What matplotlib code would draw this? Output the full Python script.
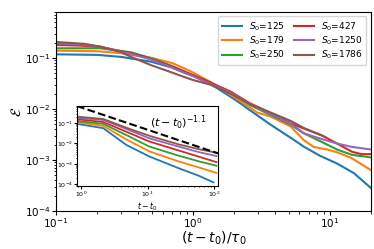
import numpy as np
import matplotlib
matplotlib.use('Agg')
import matplotlib.pyplot as plt

# initial sizes and colours of the six runs
S0 = [125, 179, 250, 427, 1250, 1786]
colors = ['tab:blue', 'tab:orange', 'tab:green', 'tab:red', 'tab:purple', 'tab:brown']

# main panel: eps vs (t - t0)/tau0
x_main = [
    [0.1, 0.2, 0.3, 0.35, 0.49, 0.7, 0.85, 1.0, 1.34, 1.88, 2.24, 2.6, 3.7, 5.2, 6.5, 8.5, 11.3, 15, 20],
    [0.1, 0.2, 0.29, 0.5, 0.7, 0.85, 1.0, 1.34, 1.88, 2.24, 2.95, 3.7, 5.2, 6.4, 7.6, 9.6, 11.4, 14.3, 20],
    [0.1, 0.15, 0.21, 0.35, 0.49, 0.7, 0.85, 1.0, 1.34, 1.88, 2.6, 3.7, 5.2, 6.5, 8.6, 11.3, 14.5, 20],
    [0.1, 0.15, 0.21, 0.35, 0.49, 0.7, 0.85, 1.0, 1.34, 1.88, 2.6, 3.7, 5.2, 6.5, 8.6, 11.3, 14.5, 17, 20],
    [0.1, 0.15, 0.21, 0.35, 0.49, 0.7, 0.85, 1.0, 1.34, 1.88, 2.6, 3.7, 5.2, 6.5, 8.6, 11.3, 14.5, 20],
    [0.1, 0.16, 0.21, 0.3, 0.35, 0.49, 0.7, 0.85, 1.0, 1.34, 1.88, 2.6, 3.7, 5.2, 6.5, 9.3],
]
eps_main = [
    [0.118, 0.115, 0.105, 0.098, 0.085, 0.065, 0.053, 0.045, 0.031, 0.0174, 0.0127, 0.0095, 0.0049, 0.0027, 0.0018, 0.0012, 0.00085, 0.00055, 0.00028],
    [0.139, 0.136, 0.125, 0.1, 0.08, 0.064, 0.052, 0.034, 0.019, 0.014, 0.0085, 0.0071, 0.0045, 0.0025, 0.0018, 0.0016, 0.0014, 0.0011, 0.00063],
    [0.155, 0.155, 0.155, 0.13, 0.1, 0.07, 0.056, 0.046, 0.033, 0.021, 0.012, 0.0076, 0.0049, 0.0033, 0.0023, 0.0016, 0.00126, 0.00112],
    [0.18, 0.175, 0.165, 0.125, 0.097, 0.068, 0.055, 0.046, 0.033, 0.022, 0.013, 0.0083, 0.0052, 0.0041, 0.0031, 0.0021, 0.00145, 0.0013, 0.0013],
    [0.195, 0.185, 0.167, 0.12, 0.094, 0.065, 0.052, 0.044, 0.031, 0.021, 0.0125, 0.0079, 0.0051, 0.0033, 0.0026, 0.0021, 0.0018, 0.0016],
    [0.206, 0.19, 0.167, 0.13, 0.106, 0.073, 0.052, 0.043, 0.037, 0.03, 0.02, 0.0125, 0.0085, 0.0058, 0.0042, 0.0028],
]

# inset: eps vs t - t0
x_ins = [0.87, 2.15, 4.8, 10.6, 29.5, 60, 109]
eps_ins = [
    [0.093, 0.057, 0.0085, 0.0023, 0.0006, 0.00025, 0.00012],
    [0.112, 0.074, 0.016, 0.0041, 0.0013, 0.00065, 0.00035],
    [0.129, 0.093, 0.026, 0.0071, 0.0025, 0.0013, 0.0008],
    [0.158, 0.115, 0.038, 0.0126, 0.0045, 0.0022, 0.0012],
    [0.182, 0.145, 0.052, 0.018, 0.007, 0.0037, 0.0024],
    [0.21, 0.162, 0.06, 0.024, 0.009, 0.0052, 0.0035],
]
blue_end = 98
slope = -1.1
x_guide = [0.87, 115]

fig = plt.figure(figsize=(3.74, 2.49), dpi=100)
ax = fig.add_axes([0.150, 0.153, 0.842, 0.799])
for i in range(6):
    ax.plot(x_main[i], eps_main[i], color=colors[i], lw=1.5, label=r'$S_0$=%d' % S0[i])
ax.set_xscale('log')
ax.set_yscale('log')
ax.set_xlim(0.1, 20)
ax.set_ylim(1e-4, 0.8)
ax.tick_params(labelsize=7.5, length=3, pad=1)
ax.tick_params(which='minor', length=1.8)
ax.set_xlabel(r'$(t-t_0)/\tau_0$', fontsize=10, labelpad=-0.5)
ax.set_ylabel(r'$\mathcal{E}$', fontsize=10, labelpad=1)
ax.legend(loc='upper right', ncol=2, fontsize=6.5, handlelength=2.2,
          columnspacing=1.0, labelspacing=0.2, borderpad=0.4, handletextpad=0.8)

axi = fig.add_axes([0.206, 0.253, 0.377, 0.321])
for i in range(6):
    xs = list(x_ins)
    if i == 0:
        xs[-1] = blue_end
    axi.plot(xs, eps_ins[i], color=colors[i], lw=1.3)
xg = np.array(x_guide)
axi.plot(xg, 0.6 * xg ** slope, 'k--', lw=1.5)
axi.text(11, 0.065, r'$(t-t_0)^{-1.1}$', fontsize=8)
axi.set_xscale('log')
axi.set_yscale('log')
axi.set_xlim(0.87, 115)
axi.set_ylim(8e-5, 0.7)
axi.tick_params(labelsize=4.5, pad=1, length=2)
axi.tick_params(which='minor', length=1)
axi.set_xlabel(r'$t-t_0$', fontsize=5.5, labelpad=0.5)

fig.savefig('out.png', dpi=100)
